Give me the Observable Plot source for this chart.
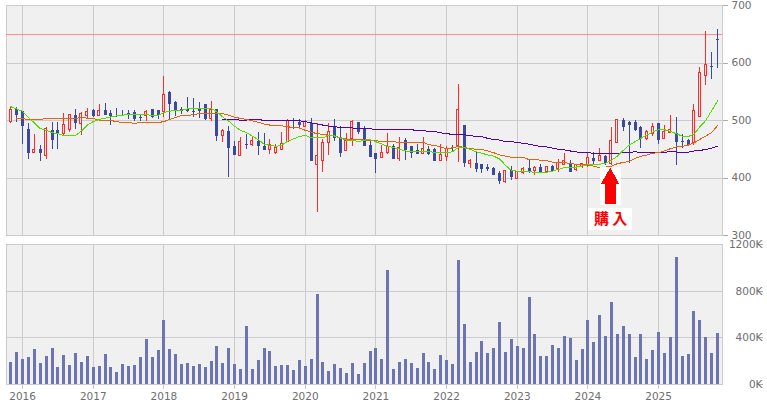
<!DOCTYPE html>
<html>
<head>
<meta charset="utf-8">
<script src="https://cdn.jsdelivr.net/npm/d3@7"></script>
<script src="https://cdn.jsdelivr.net/npm/@observablehq/plot@0.6"></script>
<style>
html,body{margin:0;padding:0;background:#fff;}
#chart{width:767px;height:405px;overflow:hidden;}
svg{display:block;shape-rendering:crispEdges;}
svg text{shape-rendering:auto;}
</style>
</head>
<body>
<div id="chart"></div>
<script>
const opens=[498,520,515,485,444,450,438.5,483,483,476,484,509,494,507.5,518,508,517,513,509,509,512,514.5,506,507,520,518,514.5,549,532,520,520,516,521,527,502,518.5,473,481,455,438.5,459,457,464,455,448,443,449.5,462,496.5,497,488,494,422,429,460.5,487,469,447,467.5,497,485,457,443,435,443,454,433,466,455,447,441,450,450,429,436,450,455,492,424,426,424,419,417,408,393,413,398,409.5,417,412,419,410,420.5,415,423,424,414,419,420.5,434,429,438,424,461,500,497,497,488,467.5,476,494,467.5,478,478,464,466,460.5,506,577,594.5,641.5];
const highs=[525,523,516,495,476,457,487,497,497,513,510,520,514.5,521,520,527,530,518,521,518,518,518,509,517,520,518,577,551,533,523,540.6,539,532,527,533.6,520,485,490,464,471,476,471,480,478,467.5,459,480,501,504,502,500,504,495,467.5,494,502,490,478,500.6,497,490,466,443,457,478,459,471,469,455,459,471,454,452,459,454,457,563,492,433,445,424,424,419,412,413,420.5,410,418,431,420,424,420.5,422,433,443,431,424,426,445,445,452,440,488,502,504,499,500.6,490,483,495,495,492,509,506,476,467.5,527,593,655,619,659];
const lows=[494,497,459,433,442,429,433,450,450,473,480,485,474,502,506,508,509,492,506,508,502,499,499,499,504,502,506,502,507.5,511,514.5,506,504,500,499,464,462,401,440,438.5,450,455,440,447,441,441,448,462,485,488,488,429,340,410,440,464,436,447,455,476,454,436,408,435,441,433,429,431,434,441,441,440,429,429,429,445,427.5,419,417,410,408,412,405,389,391,396,398,406.6,408,405,410,408,410,410,423,410,412,417,419,422,429,422,422,461,481,426,481,452,466,473,459,467.5,478,422,452,454,457,506,561,572,591];
const closes=[518,509,489,443,448,443,485.5,466,477,492,509,494,512,514.5,507,516,509,507.5,508,508,509,502,504,515,506,509,543.5,528,516,516,516,514.5,516,501,518,473,481,452,440,462,457,463.5,454,447,458,452,460,500,496,492,497,429,438,460.5,480,469,443,464,497,480,454,436,433,443,454,433,452,447,443,441,450,441,429,440,450,449,519,426,429,415,414,414,405,394,413,401.4,410,416,410,418,410,419,412,426,429,410,422,424,434,429,438,426,464,501,488,492,483,467.5,480,488,466,480,483,462,462,457,516,582,596,593,640];
const greenMA=[524,520,516,505,496,486,483,479,477,474,474,474,482,492,498,502,504,506,508,509,511,510,510,510,509,509,514,516,518,518,520,521,521,521,521,515,506,499,490,483,479,473,467,459,457,455,457,464,468,472,474,470,470,470,474,473,469,466,466,463,466,467,463,459,455,453,450,447,445.5,445.5,445.5,445.5,445,445,444,445.5,453,452.4,450,445.5,443,440,438,433,422,413,412,411,411,410,409,410,412,415,418,419,419,421,423,423.4,424,426,431,438,448,457,463,469,474.5,480,484,484,481,477,473,472,476,489,500,517,534];
const orangeMA=[null,503,503,502,502,502,503.5,503.5,503.5,503.5,503.5,503.5,506,504,503.5,500.6,500,500,498,496.5,496.5,495,496.5,496.5,496.5,496.5,498,502,505,509,509,510,512,512,513,512,512,509,506,503.5,502,499.5,497,494,492,491,491,489,488,487,483,480,477,476,474,473,470,467.5,467,467,466,466,465,463,463,463,462,462,462,462,462,458,456.5,454,451,452.4,455,453,451,450,449.5,447,444,440,438,436,436,436,432,432,431,430,427.5,427,427,425,424,423,423,420.5,418,419,420.5,425,427,429,434,438,440,443,444,447,451,454,455,457,461,467,473,479,491];
const purpleMA=[null,null,null,null,null,null,null,null,null,null,null,null,null,null,null,null,null,null,null,null,null,null,null,null,null,null,null,null,null,null,null,null,null,null,null,null,502,502,502,500.6,500.6,502,502,500,500,500,500,499.5,499.5,499.5,498,496,494,492,490,489,488,487,487,486,486,486,484,484,484,484,484,484,484,482.6,482.6,481,481,478.5,477,476,475.6,475,474,472,471.6,469,467,466,463,463,462,460,459,456.5,455,454,452,450,449,447,445.5,444,444,443,443,443,443,443,444,444,446,444,444,444,444,445,445.5,445.5,444,445,447,448,449.5,452,455];
const volumes=[189,274,214,231,300,180,240,309,146,249,163,266,189,240,146,154,257,146,103,171,154,163,231,386,231,291,549,300,257,171,180,154,171,146,197,326,180,309,171,129,497,129,206,309,283,154,163,163,120,206,154,214,771,189,111,171,137,94,180,86,180,283,309,214,977,129,189,214,180,137,266,189,129,249,206,171,1063,514,189,274,369,266,309,531,274,386,326,309,746,429,240,240,334,309,411,394,206,300,549,360,591,411,703,429,497,429,231,429,214,291,446,266,403,1089,240,257,626,549,403,266,437];
const yearLabels=["2016","2017","2018","2019","2020","2021","2022","2023","2024","2025"];
const yearIndex=[2,14,26,38,50,62,74,86,98,110];
const priceTicks=[300,400,500,600,700];
const volumeTicks=[0,400,800,1200];
const targetPrice=650;

const candles=opens.map((o,i)=>({i,o,h:highs[i],l:lows[i],c:closes[i],up:closes[i]>=o,g:greenMA[i],r:orangeMA[i],p:purpleMA[i],v:volumes[i]}));
const upCandles=candles.filter(d=>d.up), downCandles=candles.filter(d=>!d.up);

const RED="#ff2b2b",BLUE="#3b4a9e",BG="#f0f0f0",GRID="#cccccc",TXT="#6e6e6e";
const xDomain=[-0.73,120.85];
const font={fontFamily:"'DejaVu Sans',sans-serif",fontSize:"10.5px",background:"transparent",color:TXT};
const gridX=Plot.ruleX(yearIndex,{stroke:GRID});

const priceChart=Plot.plot({
  width:767,height:240,marginTop:5,marginBottom:5,marginLeft:6,marginRight:45,
  style:font,
  x:{domain:xDomain,axis:null},
  y:{domain:[300,700]},
  marks:[
    Plot.frame({fill:BG,stroke:null}),
    gridX,
    Plot.ruleY(priceTicks,{stroke:GRID}),
    Plot.frame({stroke:GRID}),
    Plot.axisY({anchor:"right",ticks:priceTicks,tickSize:5,tickPadding:4,stroke:"#aaa",fill:TXT,label:null}),
    Plot.ruleY([targetPrice],{stroke:"#ff8a8a"}),
    Plot.ruleX(candles,{x:"i",y1:"l",y2:"h",stroke:d=>d.up?RED:BLUE}),
    Plot.ruleX(downCandles,{x:"i",y1:"o",y2:"c",stroke:BLUE,strokeWidth:3}),
    Plot.rect(upCandles,{x1:d=>d.i-0.17,x2:d=>d.i+0.17,y1:"o",y2:"c",fill:BG,stroke:RED}),
    Plot.line(candles,{x:"i",y:"p",stroke:"#5200b4",strokeWidth:1}),
    Plot.line(candles,{x:"i",y:"r",stroke:"#e8620c",strokeWidth:1}),
    Plot.line(candles,{x:"i",y:"g",stroke:"#55dd00",strokeWidth:1}),
    Plot.rect([{x1:100.1,x2:103.7,y1:352,y2:418},{x1:98.1,x2:105.6,y1:309,y2:347}],{x1:"x1",x2:"x2",y1:"y1",y2:"y2",fill:"#fff"}),
    Plot.rect([{x1:100.9,x2:102.8,y1:354,y2:390}],{x1:"x1",x2:"x2",y1:"y1",y2:"y2",fill:"#ff0000"}),
    Plot.areaY([{x:100.3,b:389,t:389},{x:101.85,b:389,t:417},{x:103.4,b:389,t:389}],{x:"x",y1:"b",y2:"t",fill:"#ff0000"}),
    Plot.text([{x:101.85,y:328,t:"購 入"}],{x:"x",y:"y",text:"t",fill:"#ff0000",fontSize:15,fontWeight:"bold",fontFamily:"'Noto Sans CJK JP',sans-serif"})
  ]
});

const volumeChart=Plot.plot({
  width:767,height:165,marginTop:4,marginBottom:21,marginLeft:6,marginRight:45,
  style:font,
  x:{domain:xDomain,axis:null},
  y:{domain:[0,1200]},
  marks:[
    Plot.frame({fill:BG,stroke:null}),
    gridX,
    Plot.ruleY(volumeTicks,{stroke:GRID}),
    Plot.frame({stroke:GRID}),
    Plot.axisY({anchor:"right",ticks:volumeTicks,tickSize:5,tickPadding:0,textAnchor:"end",dx:35,stroke:"#aaa",fill:TXT,label:null,tickFormat:d=>d+"K"}),
    Plot.axisX({ticks:yearIndex,tickSize:5,tickPadding:3,stroke:GRID,fill:TXT,label:null,tickFormat:d=>yearLabels[yearIndex.indexOf(d)]}),
    Plot.ruleX(candles,{x:"i",y1:0,y2:"v",stroke:"#6c75b2",strokeWidth:3})
  ]
});

const host=document.getElementById("chart");
host.appendChild(priceChart);
host.appendChild(volumeChart);
</script>
</body>
</html>
